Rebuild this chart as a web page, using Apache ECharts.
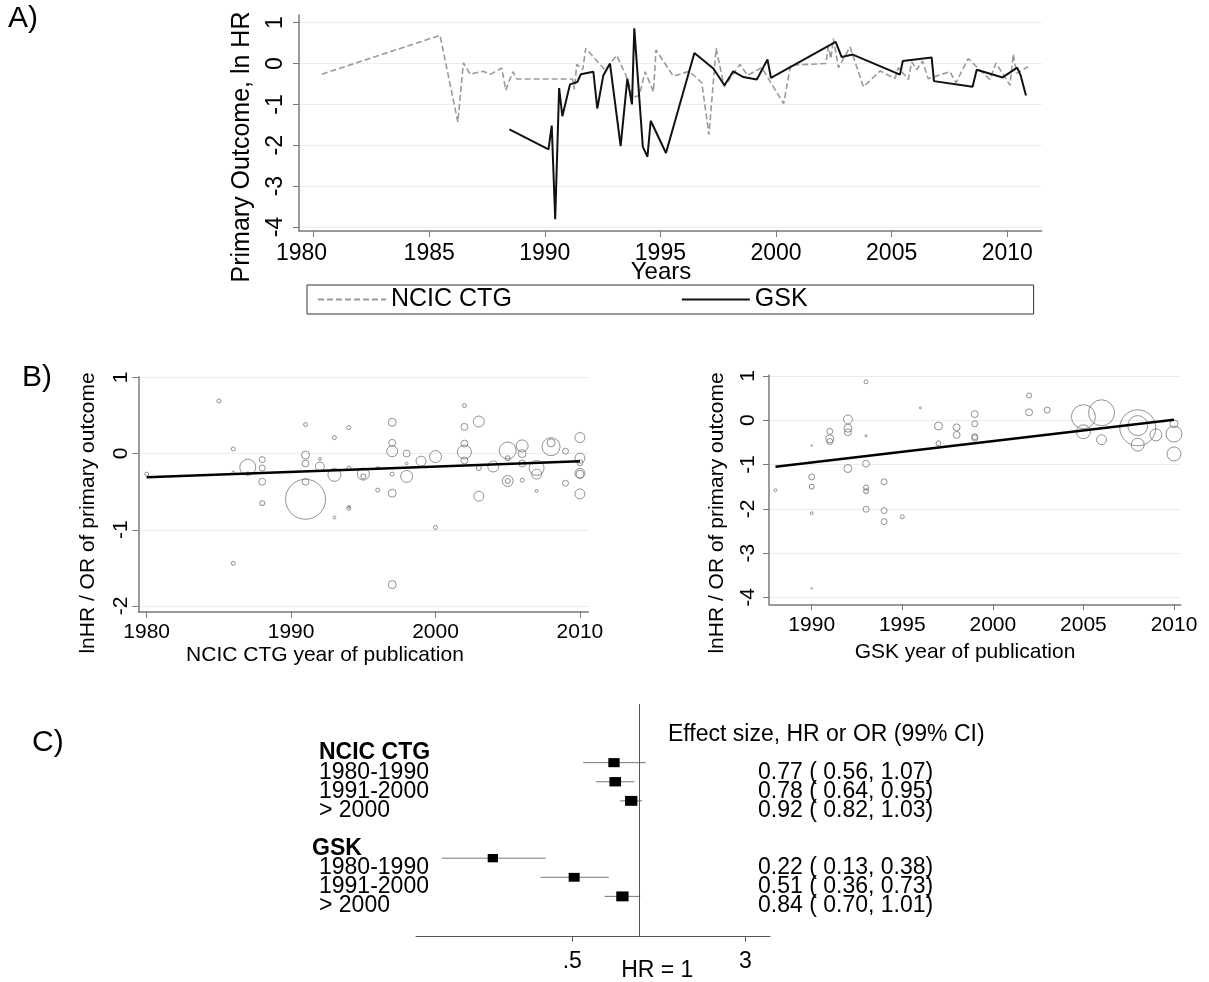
<!DOCTYPE html>
<html>
<head>
<meta charset="utf-8">
<script src="https://cdn.jsdelivr.net/npm/echarts@6.0.0/dist/echarts.min.js"></script>
<style>
  html, body { margin: 0; padding: 0; background: #fff; }
  #chart { width: 1209px; height: 982px; }
</style>
</head>
<body>
<div id="chart"></div>
<script>
// ---- A) primary outcome over time (ln HR) ----
const ncicYears = [1980.36, 1985.47, 1986.24, 1986.48, 1986.77, 1987.32, 1987.67, 1988.14, 1988.31, 1988.62,
  1988.79, 1991.2, 1991.28, 1991.38, 1991.64, 1991.77, 1992.61, 1993.11, 1993.51, 1993.83,
  1994.09, 1994.34, 1994.7, 1994.81, 1995.56, 1996.25, 1996.79, 1997.1, 1997.41, 1997.76,
  1998.44, 1998.77, 1999.38, 2000.33, 2000.63, 2002.15, 2002.26, 2002.37, 2002.48, 2002.7,
  2003.2, 2003.78, 2004.5, 2005.14, 2005.29, 2005.72, 2005.87, 2006.08, 2006.34, 2006.58,
  2007.52, 2007.78, 2008.31, 2009.25, 2009.51, 2010.12, 2010.26, 2010.4, 2010.9];
const ncicLnHR = [-0.26, 0.69, -1.43, 0.02, -0.26, -0.19, -0.26, -0.11, -0.65, -0.2,
  -0.38, -0.38, -0.63, -0.02, -0.15, 0.37, -0.16, 0.2, -0.29, -0.83,
  -0.78, -0.2, -0.69, 0.33, -0.31, -0.19, -0.47, -1.74, 0.37, -0.57,
  -0.02, -0.29, -0.1, -0.98, -0.04, 0.0, 0.41, 0.12, 0.61, -0.1,
  0.41, -0.57, -0.18, -0.37, -0.1, -0.39, 0.04, -0.15, 0.06, -0.37,
  -0.2, -0.47, 0.12, -0.39, 0.01, -0.53, 0.23, -0.24, -0.08];
const gskYears = [1988.47, 1990.16, 1990.3, 1990.45, 1990.62, 1990.76, 1991.09, 1991.41, 1991.56, 1992.1,
  1992.27, 1992.53, 1992.82, 1993.28, 1993.57, 1993.77, 1993.87, 1994.24, 1994.44, 1994.58,
  1995.24, 1996.47, 1997.29, 1997.77, 1998.15, 1998.59, 1999.17, 1999.63, 1999.78, 2002.58,
  2002.84, 2003.32, 2005.36, 2005.48, 2006.73, 2006.83, 2008.5, 2008.68, 2009.8, 2010.43,
  2010.58, 2010.81];
const gskLnHR = [-1.61, -2.1, -1.52, -3.81, -0.6, -1.29, -0.51, -0.45, -0.26, -0.2,
  -1.1, -0.29, 0.0, -2.02, -0.37, -1.0, 0.86, -2.04, -2.28, -1.4,
  -2.19, 0.26, -0.12, -0.53, -0.19, -0.33, -0.39, 0.1, -0.35, 0.53,
  0.16, 0.22, -0.27, 0.06, 0.15, -0.43, -0.57, -0.15, -0.34, -0.1,
  -0.29, -0.78];
const yearTicksA = [1980, 1985, 1990, 1995, 2000, 2005, 2010];

// ---- B) meta-regression bubble plots ----
const ncicPubYear = [1980, 1985, 1986, 1986, 1986, 1987, 1987, 1988, 1988, 1988,
  1988, 1991, 1991, 1991, 1991, 1991, 1992, 1992, 1993, 1993,
  1993, 1994, 1994, 1994, 1994, 1995, 1995, 1996, 1996, 1997,
  1997, 1997, 1997, 1997, 1997, 1998, 1998, 1998, 1999, 2000,
  2000, 2002, 2002, 2002, 2002, 2002, 2003, 2003, 2003, 2004,
  2005, 2005, 2005, 2005, 2006, 2006, 2006, 2006, 2007, 2007,
  2007, 2008, 2008, 2009, 2009, 2010, 2010, 2010, 2010, 2010, 2010];
const ncicEffect = [-0.27, 0.69, 0.06, -0.25, -1.44, -0.18, -0.26, -0.08, -0.19, -0.37,
  -0.65, 0.38, -0.02, -0.13, -0.37, -0.6, -0.07, -0.17, 0.21, -0.28,
  -0.84, 0.34, -0.19, -0.72, -0.7, -0.27, -0.3, -0.19, -0.48, 0.41,
  0.14, 0.03, -0.27, -0.52, -1.72, 0.0, -0.13, -0.3, -0.1, -0.04,
  -0.97, 0.63, 0.35, 0.13, 0.02, -0.09, 0.42, -0.19, -0.56, -0.17,
  0.04, -0.06, -0.36, -0.36, 0.1, 0.0, -0.13, -0.35, -0.19, -0.27,
  -0.49, 0.09, 0.14, 0.03, -0.39, 0.21, -0.06, -0.12, -0.26, -0.27, -0.53];
const ncicWeight = [4, 4, 4, 2, 4, 64, 2, 9, 9, 12,
  6, 4, 16, 12, 12, 400, 2, 20, 4, 42,
  2, 4, 4, 4, 2, 36, 6, 2, 4, 16,
  12, 30, 4, 16, 16, 12, 2, 36, 25, 36,
  4, 4, 12, 12, 49, 12, 30, 6, 25, 30,
  72, 6, 30, 6, 36, 16, 12, 4, 56, 25,
  2, 81, 16, 9, 9, 25, 25, 9, 25, 16, 25];
const ncicFitYears = [1980, 2010];
const ncicFitValues = [-0.31, -0.1];

const gskPubYear = [1988, 1990, 1990, 1990, 1990, 1990, 1991, 1991, 1991, 1992,
  1992, 1992, 1992, 1993, 1993, 1993, 1993, 1993, 1993, 1994,
  1994, 1994, 1995, 1996, 1997, 1997, 1998, 1998, 1999, 1999,
  1999, 1999, 2002, 2002, 2003, 2005, 2005, 2006, 2006, 2008,
  2008, 2008, 2009, 2010, 2010, 2010];
const gskEffect = [-1.58, -0.57, -1.28, -1.5, -2.1, -3.8, -0.25, -0.42, -0.48, 0.02,
  -0.18, -0.27, -1.09, 0.87, -0.35, -0.98, -1.52, -1.6, -2.01, -1.39,
  -2.04, -2.29, -2.18, 0.28, -0.13, -0.52, -0.16, -0.33, 0.14, -0.08,
  -0.37, -0.4, 0.56, 0.18, 0.23, 0.08, -0.26, 0.17, -0.44, -0.17,
  -0.12, -0.55, -0.33, -0.08, -0.31, -0.76];
const gskWeight = [2, 0.5, 9, 6, 2, 0.5, 9, 16, 9, 20,
  16, 12, 16, 4, 1, 12, 6, 6, 9, 9,
  9, 9, 4, 1, 16, 6, 12, 12, 12, 9,
  9, 9, 6, 12, 9, 144, 49, 169, 25, 324,
  100, 42, 36, 16, 64, 49];
const gskFitYears = [1988, 2010];
const gskFitValues = [-1.05, 0.01];

// ---- C) forest plot ----
const forestGroups = ['NCIC CTG', 'GSK'];
const forestPeriods = ['1980-1990', '1991-2000', '> 2000'];
const forestHR = [0.77, 0.78, 0.92, 0.22, 0.51, 0.84];
const forestLo = [0.56, 0.64, 0.82, 0.13, 0.36, 0.70];
const forestHi = [1.07, 0.95, 1.03, 0.38, 0.73, 1.01];
const forestWeight = [102, 108, 121, 85, 96, 121];

const FONT = "'Liberation Sans', Arial, sans-serif";
const axisGray = '#7a7a7a';
const gridGray = '#ececec';

const zip = (xs, ys) => xs.map((x, i) => [x, ys[i]]);
const bubbles = (xs, ys, ws) => xs.map((x, i) => [x, ys[i], ws[i]]);

// rows of the forest plot: group header, then one row per period
const rowIndex = [];
const rowLeft = [];
const rowRight = [];
const rowKind = [];   // 'head0', 'head', 'item'
const forestData = [];
forestGroups.forEach((g, gi) => {
  const head = 1 + gi * 5;
  rowIndex.push(head); rowLeft.push(g); rowRight.push(''); rowKind.push(gi === 0 ? 'head0' : 'head');
  forestPeriods.forEach((p, pi) => {
    const k = gi * 3 + pi;
    const row = head + 1 + pi;
    rowIndex.push(row);
    rowLeft.push(p);
    rowRight.push(forestHR[k].toFixed(2) + ' ( ' + forestLo[k].toFixed(2) + ', ' + forestHi[k].toFixed(2) + ')');
    rowKind.push('item');
    forestData.push([Math.log(forestHR[k]), Math.log(forestLo[k]), Math.log(forestHi[k]), row - 0.5, forestWeight[k]]);
  });
});

const chart = echarts.init(document.getElementById('chart'));

const tickLabel = (size) => ({ color: '#000', fontFamily: FONT, fontSize: size, showMinLabel: true, showMaxLabel: true });
const plainYear = (v) => String(v);

chart.setOption({
  animation: false,
  backgroundColor: '#fff',
  textStyle: { fontFamily: FONT },
  grid: [
    { left: 299, top: 15, width: 742.7, height: 216, outerBoundsMode: 'none' },
    { left: 138.3, top: 376.7, width: 450, height: 235, outerBoundsMode: 'none' },
    { left: 769, top: 375, width: 411.7, height: 229.3, outerBoundsMode: 'none' },
    { left: 416, top: 704, width: 354, height: 232.7, outerBoundsMode: 'none' }
  ],
  legend: {
    data: ['NCIC CTG', 'GSK'],
    left: 307,
    top: 285,
    orient: 'horizontal',
    itemWidth: 68,
    itemHeight: 2,
    itemGap: 169,
    padding: [1, 226, 1, 10],
    borderColor: '#333',
    borderWidth: 1,
    itemStyle: { opacity: 0 },
    textStyle: { fontFamily: FONT, fontSize: 25, color: '#000', lineHeight: 27 }
  },
  xAxis: [
    {
      gridIndex: 0, type: 'value', min: 1979.37, max: 2011.49,
      axisLine: { onZero: false, lineStyle: { color: axisGray, width: 1.5 } },
      axisTick: { customValues: yearTicksA, length: 6, lineStyle: { color: axisGray } },
      axisLabel: Object.assign({
        customValues: yearTicksA, margin: 11,
        formatter: (v) => v === 1980 ? '{s|1980}' : String(v),
        rich: { s: { fontFamily: FONT, fontSize: 23, color: '#000', padding: [0, 24, 0, 0] } }
      }, tickLabel(23)),
      splitLine: { show: false }
    },
    {
      gridIndex: 1, type: 'value', min: 1979.42, max: 2010.58,
      axisLine: { onZero: false, lineStyle: { color: axisGray, width: 1.5 } },
      axisTick: { customValues: [1980, 1990, 2000, 2010], length: 6, lineStyle: { color: axisGray } },
      axisLabel: Object.assign({ customValues: [1980, 1990, 2000, 2010], margin: 10, formatter: plainYear }, tickLabel(21)),
      splitLine: { show: false }
    },
    {
      gridIndex: 2, type: 'value', min: 1987.643, max: 2010.37,
      axisLine: { onZero: false, lineStyle: { color: axisGray, width: 1.5 } },
      axisTick: { customValues: [1990, 1995, 2000, 2005, 2010], length: 6, lineStyle: { color: axisGray } },
      axisLabel: Object.assign({ customValues: [1990, 1995, 2000, 2005, 2010], margin: 10, formatter: plainYear }, tickLabel(21)),
      splitLine: { show: false }
    },
    {
      gridIndex: 3, type: 'value', min: -2.309, max: 1.352,
      axisLine: { onZero: false, lineStyle: { color: '#555', width: 1 } },
      axisTick: { customValues: [Math.log(0.5), Math.log(3)], length: 5, lineStyle: { color: '#555' } },
      axisLabel: Object.assign({
        customValues: [Math.log(0.5), 0, Math.log(3)],
        margin: 13,
        formatter: function (v) {
          if (Math.abs(v) < 1e-6) return '{h|HR = 1}';
          return v < 0 ? '.5' : '3';
        },
        rich: { h: { fontFamily: FONT, fontSize: 23, color: '#000', padding: [9, 0, 0, 36] } }
      }, tickLabel(23)),
      splitLine: { show: false }
    }
  ],
  yAxis: [
    {
      gridIndex: 0, type: 'value', min: -4.098, max: 1.188,
      axisLine: { show: true, onZero: false, lineStyle: { color: axisGray, width: 1.5 } },
      axisTick: { show: true, customValues: [-4, -3, -2, -1, 0, 1], length: 6, lineStyle: { color: axisGray } },
      axisLabel: Object.assign({ customValues: [-4, -3, -2, -1, 0, 1], rotate: 90, margin: 12 }, tickLabel(23)),
      splitLine: { show: true, lineStyle: { color: gridGray, width: 1 } }
    },
    {
      gridIndex: 1, type: 'value', min: -2.075, max: 1.008,
      axisLine: { show: true, onZero: false, lineStyle: { color: axisGray, width: 1.5 } },
      axisTick: { show: true, customValues: [-2, -1, 0, 1], length: 6, lineStyle: { color: axisGray } },
      axisLabel: Object.assign({ customValues: [-2, -1, 0, 1], rotate: 90, margin: 7 }, tickLabel(21)),
      splitLine: { show: true, lineStyle: { color: gridGray, width: 1 } }
    },
    {
      gridIndex: 2, type: 'value', min: -4.158, max: 1.023,
      axisLine: { show: true, onZero: false, lineStyle: { color: axisGray, width: 1.5 } },
      axisTick: { show: true, customValues: [-4, -3, -2, -1, 0, 1], length: 6, lineStyle: { color: axisGray } },
      axisLabel: Object.assign({ customValues: [-4, -3, -2, -1, 0, 1], rotate: 90, margin: 10 }, tickLabel(21)),
      splitLine: { show: true, lineStyle: { color: gridGray, width: 1 } }
    },
    {
      gridIndex: 3, type: 'value', inverse: true, min: -1.57, max: 10.61,
      axisLine: { show: false, onZero: false }, axisTick: { show: false },
      axisLabel: { show: false }, splitLine: { show: false }
    }
  ],
  series: [
    {
      name: 'NCIC CTG', type: 'line', xAxisIndex: 0, yAxisIndex: 0,
      symbol: 'none', data: zip(ncicYears, ncicLnHR),
      lineStyle: { color: '#9a9a9a', width: 1.6, type: [6, 3] },
      itemStyle: { color: '#9a9a9a' }
    },
    {
      name: 'GSK', type: 'line', xAxisIndex: 0, yAxisIndex: 0,
      symbol: 'none', data: zip(gskYears, gskLnHR),
      lineStyle: { color: '#111', width: 2 },
      itemStyle: { color: '#111' }
    },
    {
      name: 'ncic studies', type: 'scatter', xAxisIndex: 1, yAxisIndex: 1,
      data: bubbles(ncicPubYear, ncicEffect, ncicWeight),
      symbol: 'circle',
      symbolSize: (d) => 2 * Math.sqrt(d[2]),
      itemStyle: { color: 'rgba(0,0,0,0)', borderColor: '#777', borderWidth: 1 }
    },
    {
      name: 'ncic fit', type: 'line', xAxisIndex: 1, yAxisIndex: 1, symbol: 'none',
      data: zip(ncicFitYears, ncicFitValues),
      lineStyle: { color: '#000', width: 2.5 }
    },
    {
      name: 'gsk studies', type: 'scatter', xAxisIndex: 2, yAxisIndex: 2,
      data: bubbles(gskPubYear, gskEffect, gskWeight),
      symbol: 'circle',
      symbolSize: (d) => 2 * Math.sqrt(d[2]),
      itemStyle: { color: 'rgba(0,0,0,0)', borderColor: '#777', borderWidth: 1 }
    },
    {
      name: 'gsk fit', type: 'line', xAxisIndex: 2, yAxisIndex: 2, symbol: 'none',
      data: zip(gskFitYears, gskFitValues),
      lineStyle: { color: '#000', width: 2.5 }
    },
    {
      name: 'forest', type: 'custom', xAxisIndex: 3, yAxisIndex: 3,
      data: forestData,
      encode: { x: [0, 1, 2], y: 3 },
      clip: false,
      renderItem: function (params, api) {
        const y = api.value(3);
        const a = api.coord([api.value(1), y]);
        const b = api.coord([api.value(2), y]);
        const c = api.coord([api.value(0), y]);
        const s = Math.sqrt(api.value(4));
        return {
          type: 'group',
          children: [
            { type: 'line', shape: { x1: a[0], y1: a[1], x2: b[0], y2: b[1] }, style: { stroke: '#777', lineWidth: 1 } },
            { type: 'rect', shape: { x: c[0] - s * 0.56, y: c[1] - s * 0.45, width: s * 1.12, height: s * 0.9 }, style: { fill: '#000' } }
          ]
        };
      },
      markLine: {
        silent: true, symbol: 'none', label: { show: false },
        lineStyle: { color: '#555', width: 1, type: 'solid' },
        data: [{ xAxis: 0 }]
      }
    },
    {
      name: 'forest labels', type: 'custom', xAxisIndex: 3, yAxisIndex: 3,
      data: rowIndex.map((r) => [0, r]),
      encode: { x: 0, y: 1 },
      clip: false,
      silent: true,
      renderItem: function (params, api) {
        const i = params.dataIndex;
        const cs = params.coordSys;
        const y = api.coord([0, api.value(1)])[1];
        const kind = rowKind[i];
        const children = [{
          type: 'text',
          x: cs.x - (kind === 'head' ? 104 : 97),
          y: y,
          style: {
            text: rowLeft[i],
            font: (kind === 'item' ? '' : 'bold ') + '23px ' + FONT,
            fill: '#000', align: 'left', verticalAlign: 'middle'
          }
        }];
        if (rowRight[i]) {
          children.push({
            type: 'text', x: cs.x + cs.width - 12, y: y,
            style: { text: rowRight[i], font: '23px ' + FONT, fill: '#000', align: 'left', verticalAlign: 'middle' }
          });
        }
        return { type: 'group', children: children };
      }
    }
  ],
  graphic: [
    { type: 'text', left: 8, top: 4, style: { text: 'A)', font: '30px ' + FONT, fill: '#000' } },
    { type: 'text', left: 22, top: 363, style: { text: 'B)', font: '30px ' + FONT, fill: '#000' } },
    { type: 'text', left: 32, top: 728, style: { text: 'C)', font: '30px ' + FONT, fill: '#000' } },
    { type: 'text', x: 242, y: 147, rotation: Math.PI / 2,
      style: { text: 'Primary Outcome, ln HR', font: '25px ' + FONT, fill: '#000', align: 'center', verticalAlign: 'middle' } },
    { type: 'text', x: 661, y: 272,
      style: { text: 'Years', font: '24px ' + FONT, fill: '#000', align: 'center', verticalAlign: 'middle' } },
    { type: 'text', x: 88, y: 513, rotation: Math.PI / 2,
      style: { text: 'lnHR / OR of primary outcome', font: '21px ' + FONT, fill: '#000', align: 'center', verticalAlign: 'middle' } },
    { type: 'text', x: 325, y: 655,
      style: { text: 'NCIC CTG year of publication', font: '21px ' + FONT, fill: '#000', align: 'center', verticalAlign: 'middle' } },
    { type: 'text', x: 717, y: 513, rotation: Math.PI / 2,
      style: { text: 'lnHR / OR of primary outcome', font: '21px ' + FONT, fill: '#000', align: 'center', verticalAlign: 'middle' } },
    { type: 'text', x: 965, y: 652,
      style: { text: 'GSK year of publication', font: '21px ' + FONT, fill: '#000', align: 'center', verticalAlign: 'middle' } },
    { type: 'text', x: 668, y: 735,
      style: { text: 'Effect size, HR or OR (99% CI)', font: '23px ' + FONT, fill: '#000', align: 'left', verticalAlign: 'middle' } }
  ]
});
</script>
</body>
</html>
